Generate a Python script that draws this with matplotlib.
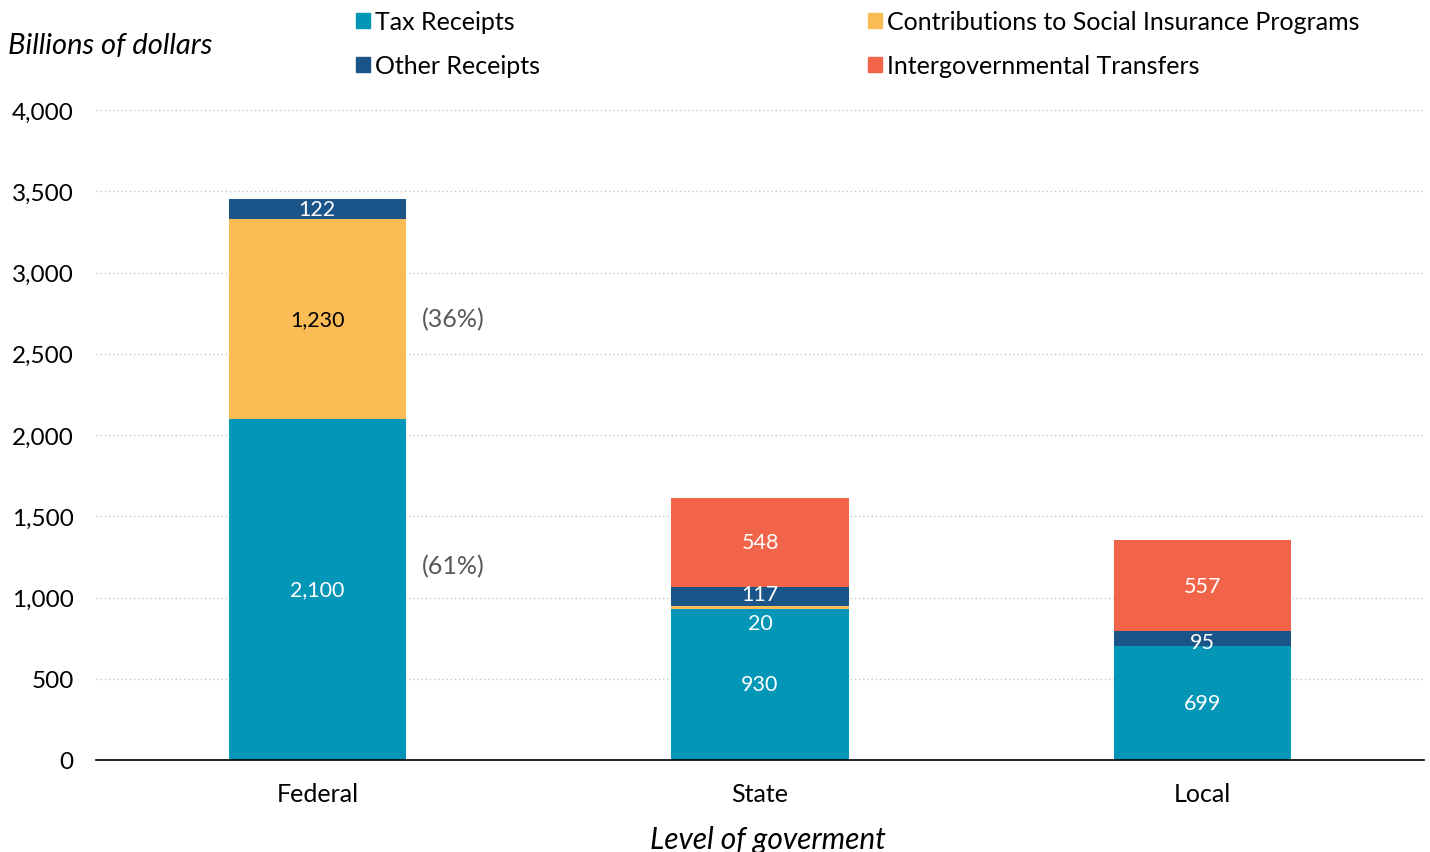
import matplotlib
matplotlib.use("Agg")
import matplotlib.pyplot as plt
from matplotlib.patches import Patch
import numpy as np

plt.rcParams['font.family'] = ['Lato', 'DejaVu Sans']

levels = ["Federal", "State", "Local"]
tax_receipts = [2100, 930, 699]
social_insurance = [1230, 20, 0]
other_receipts = [122, 117, 95]
intergov_transfers = [0, 548, 557]
tax_labels = ["2,100", "930", "699"]
social_labels = ["1,230", "20", ""]
other_labels = ["122", "117", "95"]
intergov_labels = ["", "548", "557"]
federal_shares = ["(61%)", "(36%)"]
y_ticks = [0, 500, 1000, 1500, 2000, 2500, 3000, 3500, 4000]

c_tax = "#0396b7"
c_soc = "#fbbc55"
c_oth = "#1a5488"
c_int = "#f2644a"

fig = plt.figure(figsize=(14.30, 8.53), dpi=100)
ax = fig.add_axes([96/1430, 1 - 761/853, (1424-96)/1430, 650/853])

x = np.arange(len(levels))
w = 0.4
tax = np.array(tax_receipts, float)
soc = np.array(social_insurance, float)
oth = np.array(other_receipts, float)
inter = np.array(intergov_transfers, float)

ax.bar(x, tax, w, color=c_tax, zorder=2)
ax.bar(x, soc, w, bottom=tax, color=c_soc, zorder=2)
ax.bar(x, oth, w, bottom=tax + soc, color=c_oth, zorder=2)
ax.bar(x, inter, w, bottom=tax + soc + oth, color=c_int, zorder=2)

fs = 15.5
# segment value labels
for i in range(len(levels)):
    ax.text(x[i], tax[i] / 2, tax_labels[i], ha="center", va="center", color="white", fontsize=fs, zorder=4)
    if social_labels[i]:
        if soc[i] > 200:
            ax.text(x[i], tax[i] + soc[i] / 2, social_labels[i], ha="center", va="center",
                    color="black", fontsize=fs, zorder=4)
        else:
            # thin segment: label sits just below it
            ax.text(x[i], tax[i] - 85, social_labels[i], ha="center", va="center",
                    color="white", fontsize=fs, zorder=4)
    oth_y = tax[i] + soc[i] + oth[i] / 2
    if i == 2:
        oth_y -= 20
    elif i == 1:
        oth_y += 15
    ax.text(x[i], oth_y, other_labels[i], ha="center", va="center",
            color="white", fontsize=fs, zorder=4)
    if intergov_labels[i]:
        ax.text(x[i], tax[i] + soc[i] + oth[i] + inter[i] / 2, intergov_labels[i], ha="center",
                va="center", color="white", fontsize=fs, zorder=4)

# federal shares beside the bar
share_y = [tax[0] * 0.57, tax[0] + soc[0] / 2]
for lab, yv in zip(federal_shares, share_y):
    ax.text(x[0] + 0.307, yv, lab, ha="center", va="center", color="#595959", fontsize=18,
            zorder=5, bbox=dict(boxstyle="square,pad=0.5", fc="white", ec="none"))

ax.set_xlim(-0.5, 2.5)
ax.set_ylim(0, 4000)
ax.set_yticks(y_ticks)
ax.set_yticklabels([f"{v:,}" for v in y_ticks], fontsize=17.5)
ax.set_xticks(x)
ax.set_xticklabels(levels, fontsize=18)
ax.tick_params(axis="y", length=0, pad=16)
ax.tick_params(axis="x", length=0, pad=16)
for s in ["left", "right", "top"]:
    ax.spines[s].set_visible(False)
ax.spines["bottom"].set_color("black")
ax.spines["bottom"].set_linewidth(1.2)
ax.yaxis.grid(True, linestyle=(0, (1, 2)), color="#c8c8c8", linewidth=1, zorder=0)
ax.set_axisbelow(True)

fig.text(8/1430, 1 - 46/853, "Billions of dollars", fontsize=21, style="italic", va="center", ha="left")
fig.text(768/1430, 1 - 840/853, "Level of goverment", fontsize=21.5, style="italic", va="center", ha="center")

leg_kw = dict(frameon=False, fontsize=18, handlelength=0.55, handleheight=0.55, handletextpad=0.2,
              labelspacing=0.85, loc="upper left", borderaxespad=0)
fig.legend([Patch(color=c_tax), Patch(color=c_oth)], ["Tax Receipts", "Other Receipts"],
           bbox_to_anchor=(346/1430, 1 - 1/853), **leg_kw)
fig.legend([Patch(color=c_soc), Patch(color=c_int)],
           ["Contributions to Social Insurance Programs", "Intergovernmental Transfers"],
           bbox_to_anchor=(858/1430, 1 - 1/853), **leg_kw)

fig.savefig("out.png", dpi=100)
